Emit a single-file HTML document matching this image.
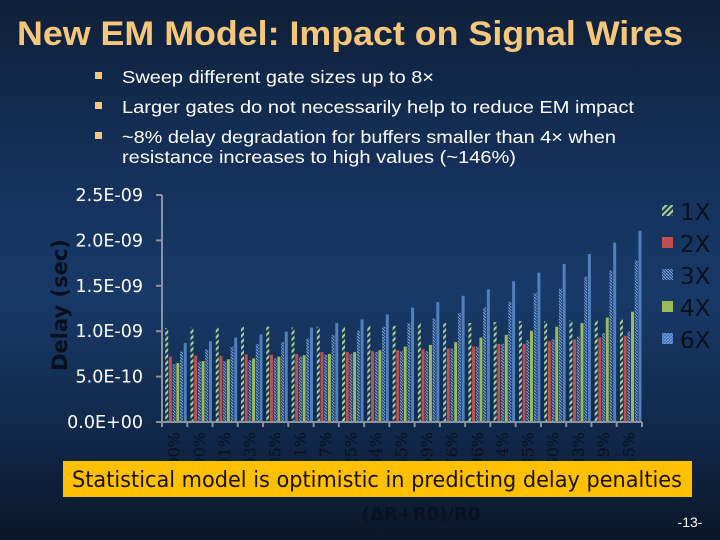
<!DOCTYPE html>
<html><head><meta charset="utf-8"><style>
html,body{margin:0;padding:0;}
body{width:720px;height:540px;overflow:hidden;background:linear-gradient(#0f2038 0%,#14305a 30%,#183a68 55%,#11284a 80%,#0a1728 100%);font-family:"Liberation Sans",sans-serif;position:relative;}
</style></head><body>
<svg width="720" height="540" style="position:absolute;left:0;top:0">
<defs>
<pattern id="hg" width="4" height="6" patternUnits="userSpaceOnUse" patternTransform="skewY(-45)"><rect width="4" height="6" fill="#1c3a62"/><rect y="0" width="4" height="3" fill="#a9d08e"/></pattern>
<pattern id="hb" width="3" height="3" patternUnits="userSpaceOnUse"><rect width="3" height="3" fill="#25477a"/><path d="M0,0 L3,3" stroke="#7ea6dc" stroke-width="1"/></pattern>
<pattern id="hb2" width="3" height="3" patternUnits="userSpaceOnUse"><rect width="3" height="3" fill="#3f6fb8"/><path d="M0,3 L3,0" stroke="#7ea6dc" stroke-width="1"/></pattern>
</defs>
<text x="17" y="45" font-family="Liberation Sans" font-weight="bold" font-size="34" fill="#f6c77a" textLength="666" lengthAdjust="spacingAndGlyphs">New EM Model: Impact on Signal Wires</text>
<g font-family="Liberation Sans" font-size="17.5" fill="#ffffff">
<rect x="95" y="72" width="7" height="7" fill="#f6c77a"/>
<text x="122" y="83" textLength="312" lengthAdjust="spacingAndGlyphs">Sweep different gate sizes up to 8×</text>
<rect x="95" y="102" width="7" height="7" fill="#f6c77a"/>
<text x="122" y="113" textLength="512" lengthAdjust="spacingAndGlyphs">Larger gates do not necessarily help to reduce EM impact</text>
<rect x="95" y="132" width="7" height="7" fill="#f6c77a"/>
<text x="122" y="143" textLength="494" lengthAdjust="spacingAndGlyphs">~8% delay degradation for buffers smaller than 4× when</text>
<text x="122" y="163" textLength="394" lengthAdjust="spacingAndGlyphs">resistance increases to high values (~146%)</text>
</g>
<g id="chart"></g>
<text transform="translate(67,305) rotate(-90)" text-anchor="middle" font-family="DejaVu Sans" font-weight="bold" font-size="21" fill="#060f1e">Delay (sec)</text>
<rect x="63" y="461" width="629" height="36" fill="#ffc000"/>
<text x="377" y="487" text-anchor="middle" font-family="DejaVu Sans" font-size="22" fill="#1a1200" textLength="610" lengthAdjust="spacingAndGlyphs">Statistical model is optimistic in predicting delay penalties</text>
<text x="421" y="520" text-anchor="middle" font-family="DejaVu Sans" font-weight="bold" font-size="18" fill="#081222">(ΔR+R0)/R0</text>
<text x="690" y="527" text-anchor="middle" font-family="Liberation Sans" font-size="14" fill="#ffffff">-13-</text>
</svg>
<script>
const categories=["100%","100%","101%","103%","105%","111%","117%","125%","134%","145%","159%","176%","196%","214%","235%","260%","283%","319%","345%"];
const seriesNames=["1X","2X","3X","4X","6X","8X"];
const s1X=[1.035,1.04,1.04,1.05,1.05,1.04,1.05,1.05,1.06,1.06,1.09,1.09,1.09,1.10,1.11,1.11,1.12,1.12,1.14];
const s2X=[0.72,0.73,0.73,0.745,0.74,0.75,0.77,0.77,0.78,0.79,0.80,0.81,0.83,0.86,0.86,0.89,0.91,0.93,0.95];
const s3X=[0.64,0.665,0.67,0.68,0.70,0.72,0.74,0.75,0.77,0.78,0.78,0.81,0.83,0.86,0.90,0.91,0.94,0.98,0.995];
const s4X=[0.65,0.67,0.69,0.70,0.72,0.735,0.75,0.77,0.79,0.83,0.85,0.88,0.93,0.96,1.005,1.05,1.09,1.15,1.215];
const s6X=[0.775,0.80,0.83,0.86,0.88,0.92,0.96,1.005,1.05,1.09,1.14,1.20,1.26,1.325,1.42,1.47,1.60,1.67,1.78];
const s8X=[0.87,0.89,0.93,0.965,0.995,1.04,1.09,1.13,1.185,1.26,1.32,1.39,1.46,1.55,1.645,1.74,1.85,1.975,2.105];
const yTicks=["0.0E+00","5.0E-10","1.0E-09","1.5E-09","2.0E-09","2.5E-09"];
const yTickVals=[0,0.5,1.0,1.5,2.0,2.5];
const legendLabels=["1X","2X","3X","4X","6X"];

const NS="http://www.w3.org/2000/svg";
const g=document.getElementById("chart");
const X0=162,X1=642,Y0=422,Y1=195,YMAX=2.5;
const gw=(X1-X0)/categories.length;
function yScale(v){return Y0-(v/YMAX)*(Y0-Y1);}
function xBand(i){return X0+i*gw;}
function mk(tag,attrs){const e=document.createElementNS(NS,tag);for(const k in attrs)e.setAttribute(k,attrs[k]);g.appendChild(e);return e;}
const series=[s1X,s2X,s3X,s4X,s6X,s8X];
const fills=["url(#hg)","#c0504d","url(#hb)","#9bbb59","url(#hb)","#4f81bd"];
series.forEach((arr,si)=>{
  arr.forEach((v,i)=>{
    const x=xBand(i)+3.2+si*3.7;
    const y=yScale(v);
    const r=mk("rect",{x:x,y:y,width:3,height:Y0-y,fill:fills[si]});
    
    
  });
});
let a=mk("line",{x1:X0,y1:Y1,x2:X0,y2:Y0,stroke:"#8c939c","stroke-width":2});


a=mk("line",{x1:X0,y1:Y0,x2:X1,y2:Y0,stroke:"#8c939c","stroke-width":2});


yTickVals.forEach((v,i)=>{
  const y=yScale(v);
  const t=mk("line",{x1:X0-6,y1:y,x2:X0,y2:y,stroke:"#8c939c","stroke-width":2});
  
  
  const l=mk("text",{x:143,y:y+6,"text-anchor":"end","font-family":"DejaVu Sans","font-size":"17.5",fill:"#ffffff"});
  l.textContent=yTicks[i];
  
  
});
for(let i=0;i<=categories.length;i++){
  const x=xBand(i);
  const t=mk("line",{x1:x,y1:Y0,x2:x,y2:Y0+5,stroke:"#8c939c","stroke-width":2});
  
  
}
categories.forEach((c,i)=>{
  const x=xBand(i)+gw/2+5;
  const l=mk("text",{transform:"translate("+x+",432) rotate(-90)","text-anchor":"end","font-family":"DejaVu Serif","font-size":"16",fill:"#08111f"});
  l.textContent=c;
  
  
});
const lfills=["url(#hg)","#c0504d","url(#hb)","#9bbb59","url(#hb2)"];
legendLabels.forEach((n,i)=>{
  const y=211+i*32;
  const s=mk("rect",{x:662,y:y-6,width:11,height:11,fill:lfills[i]});
  
  
  const t=mk("text",{x:680,y:y+9,"font-family":"DejaVu Sans","font-size":"23",fill:"#07101d"});
  t.textContent=n;
  
  
});
</script>
</body></html>
